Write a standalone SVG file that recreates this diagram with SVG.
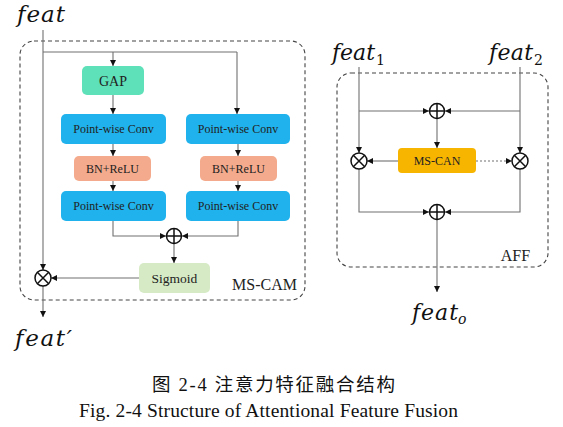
<svg xmlns="http://www.w3.org/2000/svg" width="563" height="427" viewBox="0 0 563 427">
<style>
.frame{fill:none;stroke:#444;stroke-width:1.1;stroke-dasharray:4,3}
.ln{fill:none;stroke:#707070;stroke-width:1.1}
.dot{fill:none;stroke:#707070;stroke-width:1.1;stroke-dasharray:2,2}
.op{fill:#fff;stroke:#111;stroke-width:1.5}
.opx{fill:none;stroke:#111;stroke-width:1.5}
.lbl{font-family:"Liberation Serif","Times New Roman",serif;fill:#222;text-anchor:middle}
.var{font-family:"DejaVu Serif","Liberation Serif",serif;font-style:italic;fill:#111}
.sub{font-family:"DejaVu Serif","Liberation Serif",serif;fill:#111}
.cap{font-family:"Liberation Serif","Noto Sans CJK SC",serif;fill:#111}
</style>
<defs>
<marker id="arr" markerUnits="userSpaceOnUse" markerWidth="7" markerHeight="7" refX="6" refY="3" orient="auto">
<path d="M0,0 L6,3 L0,6 z" fill="#111"/>
</marker>
</defs>

<!-- frames -->
<rect class="frame" x="20" y="41" width="285" height="259" rx="14"/>
<rect class="frame" x="337" y="73" width="211" height="194" rx="14"/>

<g id="connectors">
<path class="ln" d="M43,30 V270" marker-end="url(#arr)"/>
<path class="ln" d="M43,52 H237"/>
<path class="ln" d="M113,52 V66" marker-end="url(#arr)"/>
<path class="ln" d="M237,52 V114" marker-end="url(#arr)"/>
<path class="ln" d="M113,95 V114" marker-end="url(#arr)"/>
<path class="ln" d="M113,144 V156" marker-end="url(#arr)"/>
<path class="ln" d="M238,144 V156" marker-end="url(#arr)"/>
<path class="ln" d="M113,181 V191" marker-end="url(#arr)"/>
<path class="ln" d="M238,181 V191" marker-end="url(#arr)"/>
<path class="ln" d="M113,221 V236 H166" marker-end="url(#arr)"/>
<path class="ln" d="M238,221 V236 H182" marker-end="url(#arr)"/>
<path class="ln" d="M174,244 V263" marker-end="url(#arr)"/>
<path class="ln" d="M139,278 H51" marker-end="url(#arr)"/>
<path class="ln" d="M43,286 V317" marker-end="url(#arr)"/>

<path class="ln" d="M359,67 V153" marker-end="url(#arr)"/>
<path class="ln" d="M520,67 V153" marker-end="url(#arr)"/>
<path class="ln" d="M359,111 H429" marker-end="url(#arr)"/>
<path class="ln" d="M520,111 H445" marker-end="url(#arr)"/>
<path class="ln" d="M437,119 V148" marker-end="url(#arr)"/>
<path class="ln" d="M398,161 H367" marker-end="url(#arr)"/>
<path class="dot" d="M476,161 H512" marker-end="url(#arr)"/>
<path class="ln" d="M359,169 V212 H429" marker-end="url(#arr)"/>
<path class="ln" d="M520,169 V212 H445" marker-end="url(#arr)"/>
<path class="ln" d="M437,220 V292" marker-end="url(#arr)"/>
</g>

<g id="gap"><rect x="82" y="66" width="62" height="29" rx="5" fill="#5ee0b8"/><text class="lbl" x="113" y="85.5" font-size="14">GAP</text></g>
<g id="pwc1"><rect x="61" y="114" width="105" height="30" rx="5" fill="#1fb2ec"/><text class="lbl" x="113.5" y="133" font-size="12">Point-wise Conv</text></g>
<g id="pwc2"><rect x="186" y="114" width="104" height="30" rx="5" fill="#1fb2ec"/><text class="lbl" x="238" y="133" font-size="12">Point-wise Conv</text></g>
<g id="bn1"><rect x="74" y="156" width="77" height="25" rx="5" fill="#f4aa8c"/><text class="lbl" x="112.5" y="172.5" font-size="12">BN+ReLU</text></g>
<g id="bn2"><rect x="200" y="156" width="77" height="25" rx="5" fill="#f4aa8c"/><text class="lbl" x="238.5" y="172.5" font-size="12">BN+ReLU</text></g>
<g id="pwc3"><rect x="61" y="191" width="105" height="30" rx="5" fill="#1fb2ec"/><text class="lbl" x="113.5" y="210" font-size="12">Point-wise Conv</text></g>
<g id="pwc4"><rect x="186" y="191" width="104" height="30" rx="5" fill="#1fb2ec"/><text class="lbl" x="238" y="210" font-size="12">Point-wise Conv</text></g>
<g id="sigmoid"><rect x="139" y="263" width="71" height="30" rx="5" fill="#d6eac5"/><text class="lbl" x="174.5" y="282.5" font-size="13.5">Sigmoid</text></g>
<g id="mscan"><rect x="398" y="148" width="78" height="25" rx="4" fill="#f7b500"/><text class="lbl" x="437" y="165" font-size="12">MS-CAN</text></g>

<g id="add1"><circle class="op" cx="174" cy="236" r="7.5"/><path class="opx" d="M166.5,236 H181.5 M174,228.5 V243.5"/></g>
<g id="mul1"><circle class="op" cx="43" cy="278" r="8"/><path class="opx" d="M37.3,272.3 L48.7,283.7 M48.7,272.3 L37.3,283.7"/></g>
<g id="add2"><circle class="op" cx="437" cy="111" r="7.5"/><path class="opx" d="M429.5,111 H444.5 M437,103.5 V118.5"/></g>
<g id="mul2"><circle class="op" cx="359" cy="161" r="8"/><path class="opx" d="M353.3,155.3 L364.7,166.7 M364.7,155.3 L353.3,166.7"/></g>
<g id="mul3"><circle class="op" cx="520" cy="161" r="8"/><path class="opx" d="M514.3,155.3 L525.7,166.7 M525.7,155.3 L514.3,166.7"/></g>
<g id="add3"><circle class="op" cx="437" cy="212" r="7.5"/><path class="opx" d="M429.5,212 H444.5 M437,204.5 V219.5"/></g>

<g id="labels">
<text class="lbl" x="264.5" y="290" font-size="16">MS-CAM</text>
<text class="lbl" x="515.5" y="261" font-size="16">AFF</text>
</g>

<g id="vars">
<text class="var" x="17" y="22" font-size="23" textLength="48" lengthAdjust="spacing">feat</text>
<text class="var" x="15" y="346" font-size="23" textLength="57" lengthAdjust="spacing">feat′</text>
<text class="var" x="332" y="60" font-size="22" textLength="43" lengthAdjust="spacing">feat</text>
<text class="sub" x="376" y="65" font-size="14">1</text>
<text class="var" x="489" y="60" font-size="22" textLength="44" lengthAdjust="spacing">feat</text>
<text class="sub" x="534" y="65" font-size="14">2</text>
<text class="var" x="412" y="320" font-size="22" textLength="46" lengthAdjust="spacing">feat</text>
<text class="var" x="458" y="324" font-size="14">o</text>
</g>

<g id="caption">
<text class="cap" x="152" y="391" font-size="18.5" textLength="243" lengthAdjust="spacing">图 2-4  注意力特征融合结构</text>
<text class="cap" x="79" y="417" font-size="19.5" textLength="379" lengthAdjust="spacing">Fig. 2-4 Structure of Attentional Feature Fusion</text>
</g>
</svg>
